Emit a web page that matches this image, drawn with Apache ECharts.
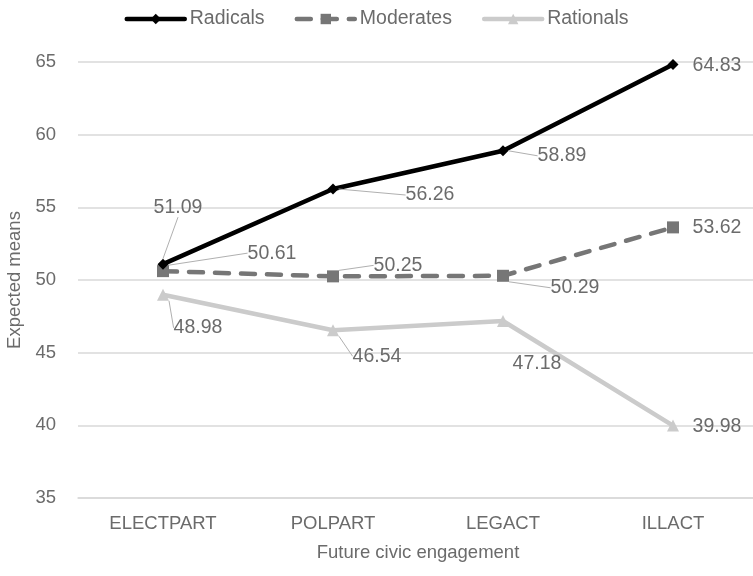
<!DOCTYPE html>
<html>
<head>
<meta charset="utf-8">
<script src="https://cdn.jsdelivr.net/npm/echarts@6/dist/echarts.min.js"></script>
<style>html,body{margin:0;padding:0;background:#fff}#c{width:753px;height:576px}</style>
</head>
<body>
<div id="c"></div>
<script>
var categories = ['ELECTPART', 'POLPART', 'LEGACT', 'ILLACT'];
var radicals = [51.09, 56.26, 58.89, 64.83];
var moderates = [50.61, 50.25, 50.29, 53.62];
var rationals = [48.98, 46.54, 47.18, 39.98];
var yTicks = [35, 40, 45, 50, 55, 60, 65];

// label offsets (px) from each point, and whether a leader line is drawn
var labelOffsets = [
  [[15, -57, true], [97, 6, true], [59, 5, true], [44, 1, false]],
  [[109, -18, true], [65, -11, true], [72, 12, true], [44, 0, false]],
  [[35, 33, true], [44, 26, true], [34, 43, false], [44, 1, false]]
];

var FONT = '"Liberation Sans", Arial, sans-serif';
var TXT = '#6b6b6b';

function buildData(values, si) {
  return values.map(function (v, i) {
    return { value: v, labelLine: { show: labelOffsets[si][i][2] } };
  });
}

function makeSeries(name, values, si, color, symbol, symbolSize, lineType) {
  return {
    name: name,
    type: 'line',
    data: buildData(values, si),
    symbol: symbol,
    symbolSize: symbolSize,
    z: 10 - si,
    lineStyle: { color: color, width: 4.5, type: lineType, cap: 'round', join: 'round' },
    itemStyle: { color: color },
    label: {
      show: true,
      position: 'inside',
      formatter: function (p) { return p.value.toFixed(2); },
      color: TXT,
      fontSize: 19.5,
      fontFamily: FONT
    },
    labelLine: { show: true, lineStyle: { color: '#b0b0b0', width: 1 } },
    labelLayout: function (p) {
      var o = labelOffsets[si][p.dataIndex];
      return { dx: o[0], dy: o[1] };
    },
    emphasis: { disabled: true },
    animation: false
  };
}

var chart = echarts.init(document.getElementById('c'), null, { renderer: 'canvas' });
chart.setOption({
  backgroundColor: '#fff',
  animation: false,
  legend: {
    top: 4,
    left: 'center',
    itemWidth: 58,
    itemHeight: 13,
    itemGap: 30,
    lineStyle: { width: 4.5 },
    textStyle: { color: TXT, fontSize: 19.5, fontFamily: FONT },
    data: ['Radicals', 'Moderates', 'Rationals']
  },
  grid: { left: 78, top: 62, width: 680, height: 436, outerBoundsMode: 'none', containLabel: false },
  xAxis: {
    type: 'category',
    data: categories,
    boundaryGap: true,
    name: 'Future civic engagement',
    nameLocation: 'middle',
    nameGap: 45,
    nameTextStyle: { color: TXT, fontSize: 18.5, fontFamily: FONT },
    axisLine: { show: true, lineStyle: { color: '#d9d9d9', width: 1.5 } },
    axisTick: { show: false },
    axisLabel: { color: TXT, fontSize: 18.5, fontFamily: FONT, margin: 16 }
  },
  yAxis: {
    type: 'value',
    min: yTicks[0],
    max: yTicks[yTicks.length - 1],
    interval: 5,
    name: 'Expected means',
    nameLocation: 'middle',
    nameGap: 49,
    nameTextStyle: { color: TXT, fontSize: 18.5, fontFamily: FONT },
    axisLine: { show: false },
    axisTick: { show: false },
    axisLabel: { color: TXT, fontSize: 18.5, fontFamily: FONT, margin: 22 },
    splitLine: { lineStyle: { color: '#d9d9d9', width: 1.5 } }
  },
  series: [
    makeSeries('Radicals', radicals, 0, '#000000', 'diamond', 11, 'solid'),
    makeSeries('Moderates', moderates, 1, '#767676', 'rect', 12, [14, 12]),
    makeSeries('Rationals', rationals, 2, '#cbcbcb', 'triangle', 12, 'solid')
  ]
});
</script>
</body>
</html>
